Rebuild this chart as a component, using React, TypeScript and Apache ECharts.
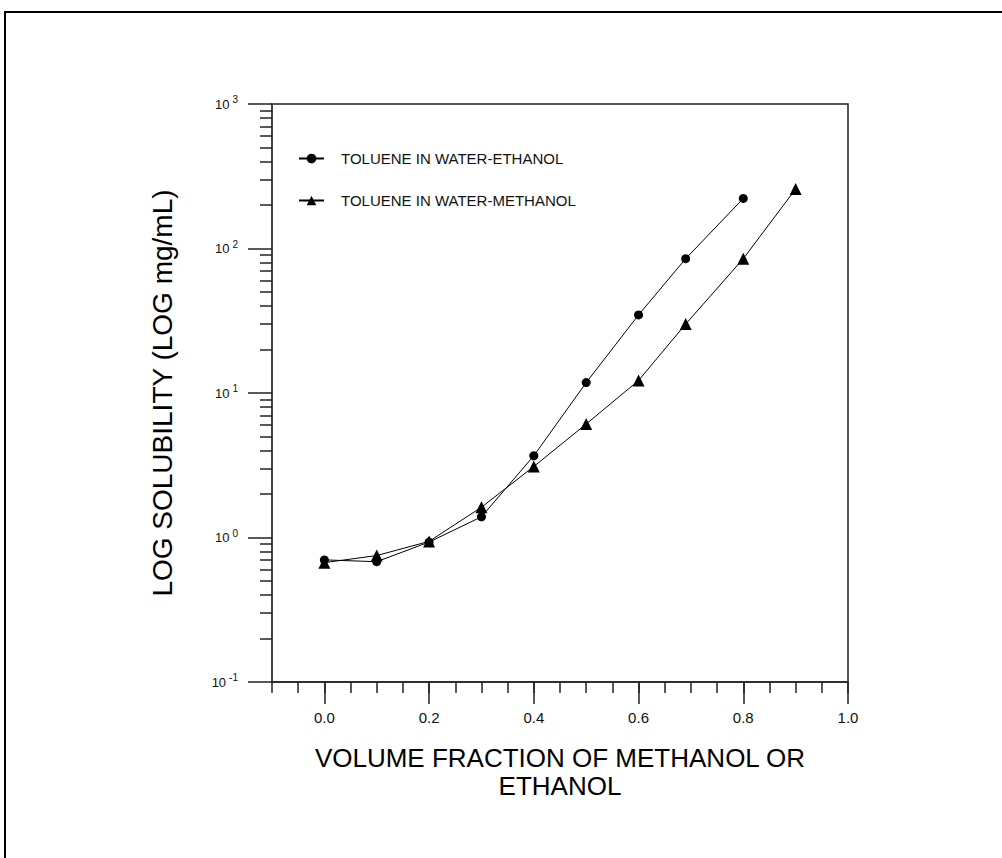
import React, { useEffect, useRef } from "react";
import * as echarts from "echarts";

const fractions = [0.0, 0.1, 0.2, 0.3, 0.4, 0.5, 0.6, 0.69, 0.8, 0.9];
const ethanolSolubility = [0.7, 0.68, 0.93, 1.39, 3.68, 11.8, 34.7, 85, 222];
const methanolSolubility = [0.67, 0.75, 0.94, 1.62, 3.1, 6.1, 12.2, 30, 85, 258];
const seriesNames = ["TOLUENE IN WATER-ETHANOL", "TOLUENE IN WATER-METHANOL"];
// tick positions along x, every 0.05 from -0.1 to 1.0; labelled every 0.2
const xTickSteps = [
  "-0.10", "-0.05", "0.0", "0.05", "0.10", "0.15", "0.2", "0.25", "0.30", "0.35", "0.4", "0.45",
  "0.50", "0.55", "0.6", "0.65", "0.70", "0.75", "0.8", "0.85", "0.90", "0.95", "1.0",
];
const yDecades = [0.1, 1, 10, 100, 1000];
const yMinorValues = [0.1, 1, 10, 100].flatMap((d) => [2, 3, 4, 5, 6, 7, 8, 9].map((k) => +(d * k).toPrecision(3)));

const FONT = "'Liberation Sans', Arial, sans-serif";
const isMajor = (i: number) => i % 4 === 2;

export default function App() {
  const ref = useRef<HTMLDivElement>(null);
  useEffect(() => {
    if (!ref.current) return;
    const chart = echarts.init(ref.current, null, { renderer: "svg" });
    const ethData = ethanolSolubility.map((v, i) => [fractions[i], v]);
    const metData = methanolSolubility.map((v, i) => [fractions[i], v]);
    chart.setOption({
      animation: false,
      backgroundColor: "#ffffff",
      textStyle: { fontFamily: FONT, color: "#000" },
      graphic: [
        {
          type: "rect",
          shape: { x: 5, y: 12, width: 1100, height: 1000 },
          style: { fill: "none", stroke: "#000", lineWidth: 2 },
          silent: true,
        },
      ],
      grid: {
        left: 272,
        right: 154,
        top: 104,
        bottom: 176,
        show: true,
        borderColor: "#222",
        borderWidth: 1.5,
        containLabel: false,
      },
      legend: {
        orient: "vertical",
        left: 293,
        top: 146,
        itemWidth: 25,
        itemHeight: 12,
        itemGap: 27,
        data: seriesNames,
        textStyle: { fontSize: 15, color: "#111", fontFamily: FONT, padding: [0, 0, 0, 12] },
      },
      xAxis: [
        {
          type: "value",
          position: "bottom",
          min: -0.1,
          max: 1.0,
          interval: 0.05,
          name: "VOLUME FRACTION OF METHANOL OR\nETHANOL",
          nameLocation: "middle",
          nameGap: 62,
          nameTextStyle: { fontSize: 26, color: "#000", lineHeight: 28, fontFamily: FONT },
          axisLine: { show: true, onZero: false, lineStyle: { color: "#222", width: 1.5 } },
          axisTick: { show: true, inside: false, length: 11, lineStyle: { color: "#222", width: 1.5 } },
          axisLabel: { show: false },
          splitLine: { show: false },
        },
        {
          type: "category",
          position: "bottom",
          data: xTickSteps,
          boundaryGap: false,
          axisLine: { show: false, onZero: false },
          axisTick: {
            show: true,
            inside: false,
            length: 22,
            interval: (i: number) => isMajor(i),
            lineStyle: { color: "#222", width: 1.5 },
          },
          axisLabel: {
            show: true,
            interval: (i: number) => isMajor(i),
            margin: 28,
            fontSize: 15,
            color: "#111",
            fontFamily: FONT,
          },
          splitLine: { show: false },
        },
      ],
      yAxis: [
        {
          type: "log",
          position: "left",
          logBase: 10,
          min: 0.1,
          max: 1000,
          name: "LOG SOLUBILITY (LOG mg/mL)",
          nameLocation: "middle",
          nameGap: 96,
          nameTextStyle: { fontSize: 28, color: "#000", fontFamily: FONT },
          axisLine: { show: true, onZero: false, lineStyle: { color: "#444", width: 2 } },
          axisTick: { show: true, inside: false, length: 24, lineStyle: { color: "#222", width: 1.5 } },
          axisLabel: {
            show: true,
            customValues: yDecades,
            margin: 34,
            formatter: (v: number) => `{b|10}{s|${Math.round(Math.log10(v))}}`,
            rich: {
              b: { fontSize: 13, color: "#111", fontFamily: FONT },
              s: { fontSize: 10, color: "#111", fontFamily: FONT, padding: [0, 0, 9, 3] },
            },
          },
          splitLine: { show: false },
        },
        {
          type: "log",
          position: "left",
          logBase: 10,
          min: 0.1,
          max: 1000,
          axisLine: { show: false, onZero: false },
          axisTick: { show: true, inside: false, length: 12, customValues: yMinorValues, lineStyle: { color: "#222", width: 1.5 } },
          axisLabel: { show: false },
          splitLine: { show: false },
        },
      ],
      series: [
        {
          name: seriesNames[0],
          type: "line",
          xAxisIndex: 0,
          yAxisIndex: 0,
          data: ethData,
          symbol: "circle",
          symbolSize: 9,
          itemStyle: { color: "#000" },
          lineStyle: { color: "#000", width: 1 },
        },
        {
          name: seriesNames[1],
          type: "line",
          xAxisIndex: 0,
          yAxisIndex: 0,
          data: metData,
          symbol: "triangle",
          symbolSize: 12,
          itemStyle: { color: "#000" },
          lineStyle: { color: "#000", width: 1 },
        },
      ],
    });
    return () => chart.dispose();
  }, []);
  return (
    <div
      ref={ref}
      style={{ position: "absolute", left: 0, top: 0, width: 1002, height: 858, background: "#fff" }}
    />
  );
}
